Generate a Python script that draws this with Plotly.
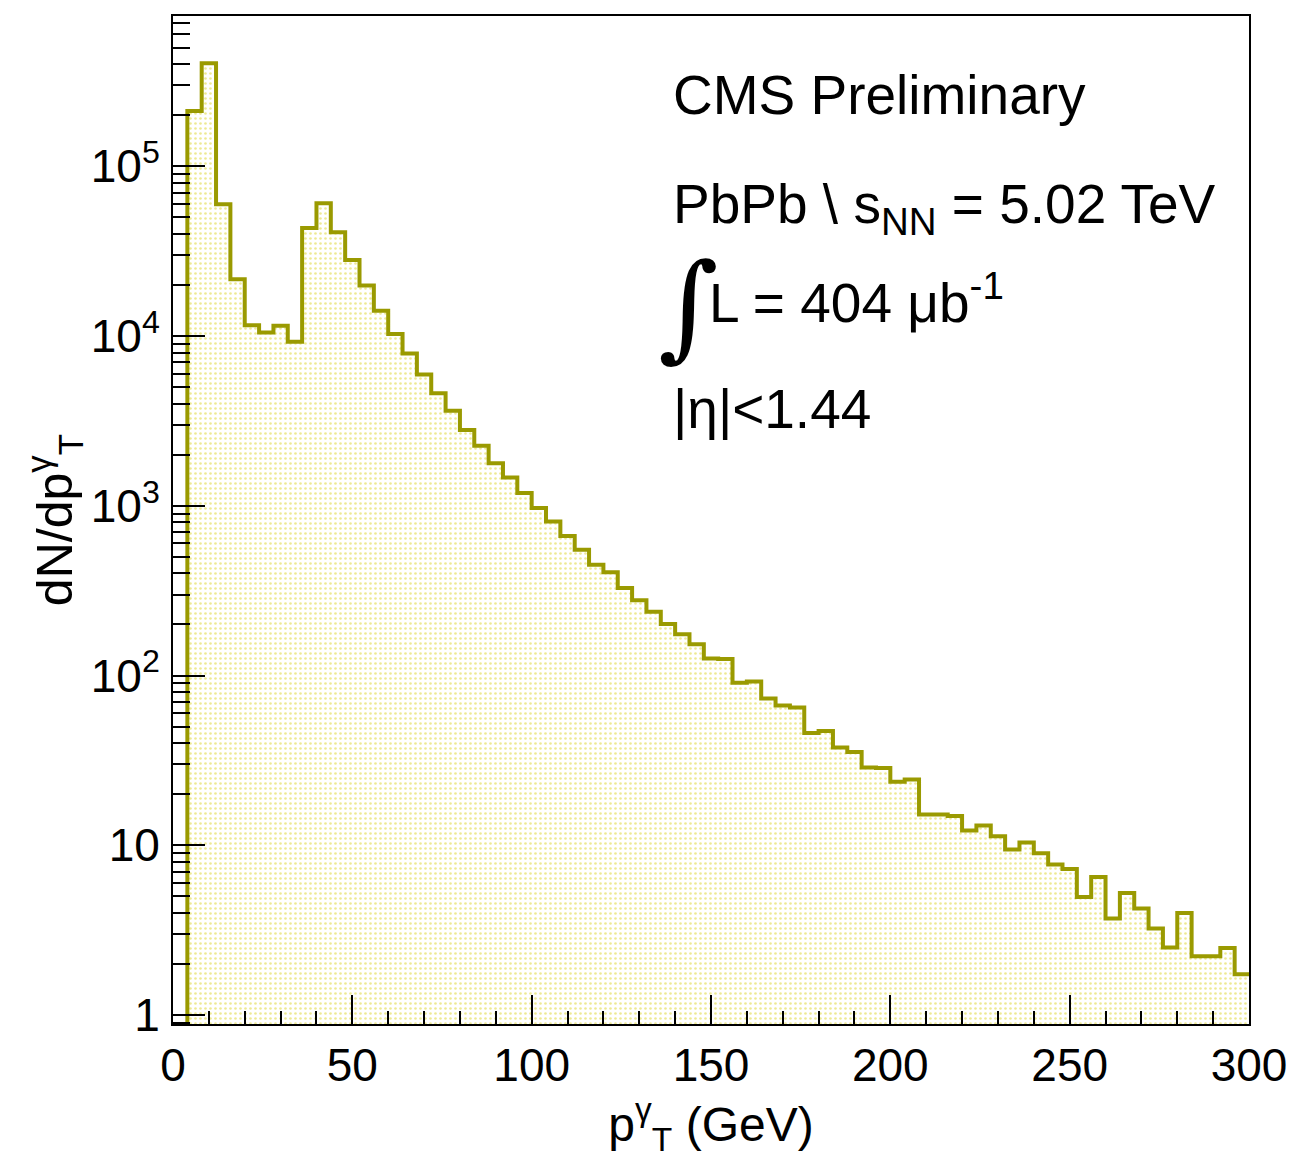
import plotly.graph_objects as go

# Histogram: photon pT, 4 GeV bins from 0 to 300
bin_edges = [4 * i for i in range(76)]
counts = [
    0, 2.12e5, 4.05e5, 5.98e4, 2.16e4, 1.16e4, 1.05e4, 1.15e4, 9.25e3, 4.34e4,
    6.06e4, 4.09e4, 2.81e4, 1.99e4, 1.41e4, 1.03e4, 7.9e3, 5.94e3, 4.6e3, 3.63e3,
    2.80e3, 2.26e3, 1.78e3, 1.47e3, 1.19e3, 970, 809, 664, 552, 449,
    406, 328, 278, 238, 201, 175, 153, 126, 125, 90.6,
    92.1, 73.2, 66.6, 64.8, 45.8, 47.2, 37.7, 35.4, 28.7, 28.5,
    23.7, 24.4, 15.2, 15.2, 14.9, 12.2, 13.1, 11.3, 9.45, 10.4,
    8.99, 7.71, 7.24, 4.96, 6.50, 3.70, 5.23, 4.24, 3.23, 2.50,
    3.99, 2.22, 2.22, 2.48, 1.74,
]

y_tick_vals = [1, 10, 100, 1000, 10000, 100000]
y_tick_text = ["1", "10", "10<sup>2</sup>", "10<sup>3</sup>", "10<sup>4</sup>", "10<sup>5</sup>"]
x_tick_vals = [0, 50, 100, 150, 200, 250, 300]

y_min = 0.885
log_lo, log_hi = -0.053, 5.886

FONT = "Liberation Sans, Arial, Helvetica, sans-serif"
LINE_COLOR = "#9a9a00"

# step coordinates (empty bins drawn at the axis floor like ROOT)
step_x = bin_edges
step_y = [c if c > 0 else y_min for c in counts] + [counts[-1]]

fig = go.Figure()
fig.add_trace(go.Scatter(
    x=[bin_edges[0], bin_edges[-1]], y=[0.5, 0.5],
    mode="lines", line=dict(width=0, color="rgba(0,0,0,0)"),
    hoverinfo="skip", showlegend=False,
))
fig.add_trace(go.Scatter(
    x=step_x, y=step_y, mode="lines",
    line=dict(shape="hv", color=LINE_COLOR, width=4),
    fill="tonexty",
    fillcolor="rgba(0,0,0,0)",
    fillpattern=dict(shape=".", fgcolor="#dcd42a", bgcolor="white",
                     size=5, solidity=0.22),
    showlegend=False,
))

# the page body has an 8px default margin; compensate so the frame lands in place
fig.update_layout(
    width=1298, height=1164,
    margin=dict(l=165, r=57, t=6, b=148),
    paper_bgcolor="white", plot_bgcolor="white",
    font=dict(family=FONT, color="black", size=46),
)

fig.update_xaxes(
    range=[0, 300], showgrid=False, zeroline=False,
    showline=True, linecolor="black", linewidth=2, mirror=True,
    ticks="inside", ticklen=29, tickwidth=2, tickcolor="black",
    tickvals=x_tick_vals, ticktext=[str(v) for v in x_tick_vals],
    tickfont=dict(size=46, family=FONT),
    minor=dict(ticks="inside", ticklen=13, dtick=10, tickwidth=2,
               tickcolor="black", showgrid=False),
    title=dict(text="p<sup>γ</sup><sub>T</sub> (GeV)", font=dict(size=48, family=FONT),
               standoff=14),
)
fig.update_yaxes(
    type="log", range=[log_lo, log_hi], showgrid=False, zeroline=False,
    showline=True, linecolor="black", linewidth=2, mirror=True,
    ticks="inside", ticklen=32, tickwidth=2, tickcolor="black",
    tickvals=y_tick_vals, ticktext=y_tick_text,
    tickfont=dict(size=46, family=FONT),
    ticklabelstandoff=2,
    minor=dict(ticks="inside", ticklen=17, dtick="D1", tickwidth=2,
               tickcolor="black", showgrid=False),
    title=dict(text="dN/dp<sup>γ</sup><sub>T</sub>", font=dict(size=50, family=FONT),
               standoff=2),
)

ann_font = dict(family=FONT, size=55, color="black")
fig.add_annotation(text="CMS Preliminary", xref="paper", yref="paper",
                   x=0.463, y=0.922, xanchor="left", yanchor="middle",
                   showarrow=False, font=ann_font)
fig.add_annotation(text="PbPb \\ s<sub>NN</sub> = 5.02 TeV", xref="paper", yref="paper",
                   x=0.463, y=0.810, xanchor="left", yanchor="middle",
                   showarrow=False, font=ann_font)
fig.add_annotation(text="∫", xref="paper", yref="paper",
                   x=0.449, y=0.713, xanchor="left", yanchor="middle",
                   showarrow=False, font=dict(family="DejaVu Serif", size=116, color="black"))
fig.add_annotation(text="L = 404 μb<sup>-1</sup>", xref="paper", yref="paper",
                   x=0.496, y=0.719, xanchor="left", yanchor="middle",
                   showarrow=False, font=ann_font)
fig.add_annotation(text="|η|<1.44", xref="paper", yref="paper",
                   x=0.463, y=0.610, xanchor="left", yanchor="middle",
                   showarrow=False, font=ann_font)

fig.write_html("out.html")
